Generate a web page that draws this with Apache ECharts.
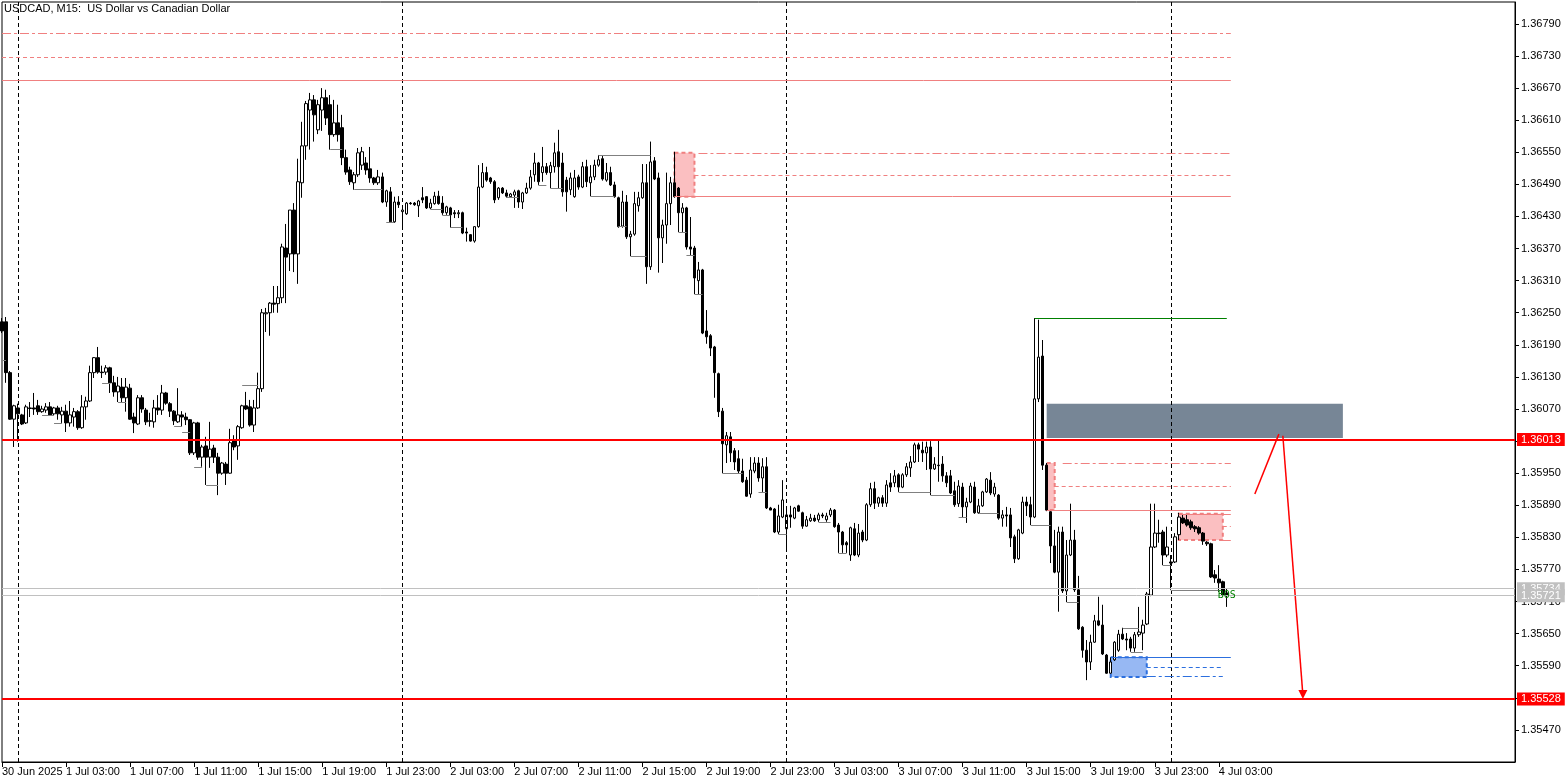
<!DOCTYPE html>
<html>
<head>
<meta charset="utf-8">
<title>USDCAD, M15</title>
<script src="https://cdn.jsdelivr.net/npm/echarts@6/dist/echarts.min.js"></script>
<style>
    html, body {margin: 0; padding: 0; background: #fff;}
    #chart {width: 1568px; height: 783px;}
</style>
</head>
<body>
<div id="chart"></div>
<script>
    var FONT = "'Liberation Sans Narrow', 'Liberation Sans', Arial, sans-serif";

    // M15 bars, bar 0 = 30 Jun 2025 23:00
    var barStart = Date.UTC(2025, 5, 30, 23, 0);
    var slotCount = 379; // bars + empty space on the right (chart shift)

    var xTickLabels = ['30 Jun 2025', '1 Jul 03:00', '1 Jul 07:00', '1 Jul 11:00', '1 Jul 15:00', '1 Jul 19:00',
        '1 Jul 23:00', '2 Jul 03:00', '2 Jul 07:00', '2 Jul 11:00', '2 Jul 15:00', '2 Jul 19:00', '2 Jul 23:00',
        '3 Jul 03:00', '3 Jul 07:00', '3 Jul 11:00', '3 Jul 15:00', '3 Jul 19:00', '3 Jul 23:00', '4 Jul 03:00'];
    var xTickStep = 16;

    var yMin = 1.35410, yMax = 1.36831, yStep = 0.0006;

    var open = [
        1.36233,1.36233,1.36138,1.36051,1.36072,1.36059,1.36044,1.36072,1.36072,1.36076,
        1.36065,1.36068,1.36074,1.36061,1.36072,1.36059,1.36066,1.36044,1.36055,1.36065,
        1.36035,1.36074,1.36085,1.36138,1.36166,1.36139,1.36139,1.36147,1.36119,1.36102,
        1.36111,1.36091,1.36109,1.36055,1.36042,1.36091,1.36068,1.36048,1.36046,1.36072,
        1.36068,1.36100,1.36080,1.36066,1.36046,1.36059,1.36055,1.36050,1.35988,1.36044,
        1.35980,1.36001,1.35980,1.35997,1.35980,1.35950,1.35967,1.35950,1.36012,1.36001,
        1.36035,1.36076,1.36074,1.36040,1.36072,1.36108,1.36248,1.36250,1.36268,1.36267,
        1.36278,1.36371,1.36360,1.36442,1.36360,1.36493,1.36562,1.36629,1.36648,1.36592,
        1.36629,1.36652,1.36639,1.36583,1.36605,1.36596,1.36540,1.36517,1.36493,1.36508,
        1.36526,1.36530,1.36519,1.36502,1.36493,1.36504,1.36457,1.36476,1.36420,1.36457,
        1.36439,1.36435,1.36455,1.36455,1.36450,1.36465,1.36467,1.36446,1.36454,1.36468,
        1.36455,1.36437,1.36446,1.36437,1.36435,1.36437,1.36401,1.36396,1.36384,1.36411,
        1.36485,1.36512,1.36502,1.36495,1.36465,1.36483,1.36474,1.36467,1.36470,1.36478,
        1.36457,1.36474,1.36483,1.36508,1.36530,1.36512,1.36523,1.36512,1.36523,1.36551,
        1.36530,1.36498,1.36480,1.36467,1.36504,1.36485,1.36523,1.36493,1.36504,1.36526,
        1.36538,1.36498,1.36512,1.36489,1.36465,1.36412,1.36457,1.36392,1.36397,1.36450,
        1.36465,1.36493,1.36336,1.36534,1.36502,1.36390,1.36414,1.36454,1.36493,1.36483,
        1.36437,1.36446,1.36373,1.36371,1.36310,1.36330,1.36216,1.36207,1.36186,1.36136,
        1.36066,1.36003,1.36018,1.35992,1.35977,1.35954,1.35937,1.35911,1.35954,1.35969,
        1.35941,1.35962,1.35885,1.35883,1.35840,1.35868,1.35846,1.35872,1.35866,1.35889,
        1.35876,1.35851,1.35861,1.35866,1.35863,1.35872,1.35863,1.35872,1.35881,1.35853,
        1.35840,1.35820,1.35797,1.35846,1.35797,1.35840,1.35825,1.35891,1.35921,1.35894,
        1.35904,1.35894,1.35932,1.35932,1.35947,1.35924,1.35947,1.35960,1.35971,1.36003,
        1.35993,1.35988,1.35999,1.35958,1.35965,1.35967,1.35945,1.35945,1.35917,1.35893,
        1.35924,1.35887,1.35896,1.35924,1.35876,1.35889,1.35915,1.35937,1.35911,1.35909,
        1.35866,1.35872,1.35872,1.35831,1.35790,1.35838,1.35896,1.35891,1.35868,1.36089,
        1.36169,1.35965,1.35878,1.35814,1.35765,1.35840,1.35730,1.35797,1.35825,1.35732,
        1.35662,1.35619,1.35597,1.35634,1.35674,1.35666,1.35610,1.35576,1.35601,1.35619,
        1.35649,1.35640,1.35640,1.35623,1.35648,1.35651,1.35668,1.35722,1.35812,1.35838,
        1.35840,1.35797,1.35784,1.35784,1.35835,1.35866,1.35863,1.35859,1.35850,1.35848,
        1.35838,1.35821,1.35818,1.35760,1.35752,1.35747,1.35726
    ];
    var high = [
        1.36240,1.36242,1.36141,1.36078,1.36080,1.36061,1.36078,1.36083,1.36100,1.36087,
        1.36076,1.36081,1.36083,1.36074,1.36076,1.36074,1.36078,1.36085,1.36072,1.36068,
        1.36096,1.36093,1.36151,1.36167,1.36186,1.36151,1.36152,1.36149,1.36132,1.36130,
        1.36128,1.36128,1.36117,1.36063,1.36096,1.36096,1.36072,1.36063,1.36087,1.36096,
        1.36115,1.36102,1.36083,1.36068,1.36109,1.36066,1.36063,1.36051,1.36046,1.36046,
        1.36003,1.36018,1.36046,1.36003,1.35988,1.35971,1.35971,1.36033,1.36021,1.36040,
        1.36078,1.36102,1.36087,1.36087,1.36138,1.36257,1.36259,1.36270,1.36300,1.36300,
        1.36379,1.36416,1.36442,1.36455,1.36538,1.36607,1.36646,1.36661,1.36657,1.36648,
        1.36670,1.36667,1.36657,1.36648,1.36639,1.36620,1.36555,1.36523,1.36513,1.36558,
        1.36560,1.36541,1.36560,1.36504,1.36517,1.36512,1.36480,1.36485,1.36467,1.36468,
        1.36446,1.36457,1.36457,1.36457,1.36461,1.36485,1.36468,1.36463,1.36476,1.36478,
        1.36468,1.36450,1.36448,1.36442,1.36442,1.36439,1.36409,1.36397,1.36411,1.36526,
        1.36530,1.36523,1.36504,1.36498,1.36485,1.36485,1.36480,1.36474,1.36480,1.36480,
        1.36476,1.36493,1.36517,1.36549,1.36532,1.36560,1.36530,1.36532,1.36568,1.36592,
        1.36549,1.36504,1.36512,1.36517,1.36508,1.36532,1.36536,1.36526,1.36536,1.36545,
        1.36543,1.36530,1.36523,1.36495,1.36467,1.36478,1.36470,1.36403,1.36476,1.36476,
        1.36528,1.36528,1.36570,1.36541,1.36512,1.36424,1.36512,1.36504,1.36551,1.36485,
        1.36455,1.36448,1.36429,1.36375,1.36345,1.36332,1.36255,1.36210,1.36188,1.36138,
        1.36072,1.36027,1.36027,1.35997,1.35993,1.35977,1.35943,1.35980,1.35980,1.35980,
        1.35978,1.35980,1.35887,1.35885,1.35891,1.35937,1.35887,1.35889,1.35887,1.35891,
        1.35878,1.35870,1.35874,1.35872,1.35876,1.35876,1.35876,1.35885,1.35883,1.35857,
        1.35842,1.35823,1.35850,1.35857,1.35855,1.35844,1.35894,1.35932,1.35934,1.35906,
        1.35909,1.35937,1.35950,1.35956,1.35950,1.35950,1.35969,1.35982,1.36007,1.36007,
        1.36009,1.36009,1.36010,1.35980,1.36012,1.35982,1.35952,1.35956,1.35934,1.35937,
        1.35932,1.35904,1.35932,1.35934,1.35902,1.35917,1.35941,1.35952,1.35932,1.35911,
        1.35881,1.35887,1.35885,1.35835,1.35846,1.35906,1.35906,1.35906,1.36240,1.36237,
        1.36199,1.35969,1.35879,1.35844,1.35850,1.35850,1.35825,1.35893,1.35844,1.35758,
        1.35664,1.35638,1.35648,1.35685,1.35719,1.35704,1.35612,1.35606,1.35636,1.35657,
        1.35661,1.35651,1.35644,1.35653,1.35700,1.35676,1.35728,1.35893,1.35893,1.35863,
        1.35844,1.35850,1.35797,1.35838,1.35876,1.35872,1.35872,1.35863,1.35853,1.35851,
        1.35840,1.35823,1.35820,1.35769,1.35778,1.35749,1.35735
    ];
    var low = [
        1.36212,1.36119,1.36050,1.35999,1.36009,1.36040,1.36042,1.36055,1.36059,1.36059,
        1.36063,1.36063,1.36059,1.36057,1.36050,1.36044,1.36027,1.36037,1.36037,1.36031,
        1.36033,1.36050,1.36083,1.36128,1.36136,1.36128,1.36134,1.36100,1.36093,1.36083,
        1.36083,1.36065,1.36050,1.36025,1.36040,1.36063,1.36040,1.36037,1.36035,1.36059,
        1.36059,1.36078,1.36055,1.36040,1.36044,1.36037,1.36040,1.35984,1.35984,1.35975,
        1.35962,1.35928,1.35960,1.35969,1.35909,1.35947,1.35928,1.35949,1.35993,1.35975,
        1.36033,1.36068,1.36037,1.36027,1.36070,1.36102,1.36214,1.36207,1.36250,1.36250,
        1.36268,1.36268,1.36328,1.36326,1.36304,1.36465,1.36536,1.36555,1.36570,1.36584,
        1.36590,1.36601,1.36555,1.36579,1.36570,1.36526,1.36508,1.36489,1.36480,1.36504,
        1.36517,1.36508,1.36493,1.36489,1.36489,1.36455,1.36448,1.36418,1.36418,1.36446,
        1.36411,1.36433,1.36452,1.36450,1.36429,1.36455,1.36444,1.36444,1.36452,1.36452,
        1.36433,1.36433,1.36409,1.36427,1.36427,1.36397,1.36383,1.36383,1.36381,1.36409,
        1.36483,1.36495,1.36491,1.36455,1.36461,1.36472,1.36465,1.36465,1.36446,1.36446,
        1.36444,1.36472,1.36480,1.36495,1.36489,1.36495,1.36508,1.36483,1.36512,1.36483,
        1.36467,1.36439,1.36470,1.36465,1.36480,1.36483,1.36485,1.36468,1.36498,1.36523,
        1.36497,1.36495,1.36487,1.36465,1.36409,1.36409,1.36388,1.36356,1.36394,1.36439,
        1.36463,1.36304,1.36330,1.36498,1.36325,1.36343,1.36379,1.36414,1.36465,1.36401,
        1.36401,1.36368,1.36358,1.36285,1.36285,1.36210,1.36192,1.36169,1.36091,1.36055,
        1.35950,1.35969,1.35971,1.35956,1.35950,1.35932,1.35906,1.35904,1.35950,1.35934,
        1.35915,1.35883,1.35881,1.35838,1.35836,1.35866,1.35807,1.35848,1.35864,1.35878,
        1.35846,1.35850,1.35859,1.35859,1.35859,1.35866,1.35859,1.35868,1.35848,1.35801,
        1.35801,1.35801,1.35786,1.35795,1.35793,1.35821,1.35823,1.35887,1.35883,1.35887,
        1.35887,1.35887,1.35915,1.35924,1.35915,1.35922,1.35943,1.35943,1.35969,1.35971,
        1.35971,1.35956,1.35909,1.35956,1.35934,1.35934,1.35924,1.35911,1.35887,1.35887,
        1.35868,1.35857,1.35894,1.35874,1.35874,1.35887,1.35913,1.35909,1.35906,1.35863,
        1.35850,1.35850,1.35812,1.35782,1.35788,1.35836,1.35870,1.35853,1.35866,1.36083,
        1.35956,1.35879,1.35782,1.35763,1.35691,1.35726,1.35709,1.35795,1.35728,1.35657,
        1.35605,1.35563,1.35582,1.35633,1.35664,1.35610,1.35575,1.35575,1.35599,1.35616,
        1.35638,1.35619,1.35616,1.35616,1.35644,1.35619,1.35666,1.35720,1.35810,1.35820,
        1.35778,1.35793,1.35732,1.35782,1.35825,1.35855,1.35850,1.35844,1.35840,1.35835,
        1.35816,1.35814,1.35754,1.35745,1.35728,1.35720,1.35700
    ];
    var close = [
        1.36216,1.36138,1.36051,1.36076,1.36061,1.36042,1.36074,1.36071,1.36070,1.36065,
        1.36070,1.36074,1.36059,1.36072,1.36061,1.36066,1.36044,1.36059,1.36065,1.36035,
        1.36074,1.36085,1.36138,1.36166,1.36139,1.36138,1.36147,1.36119,1.36102,1.36113,
        1.36091,1.36111,1.36051,1.36044,1.36091,1.36070,1.36046,1.36047,1.36072,1.36068,
        1.36100,1.36081,1.36066,1.36048,1.36059,1.36055,1.36050,1.35988,1.36044,1.35980,
        1.35999,1.35980,1.35995,1.35980,1.35950,1.35969,1.35950,1.36007,1.35999,1.36037,
        1.36076,1.36070,1.36040,1.36072,1.36108,1.36250,1.36250,1.36268,1.36266,1.36278,
        1.36373,1.36354,1.36442,1.36360,1.36495,1.36562,1.36641,1.36648,1.36620,1.36639,
        1.36652,1.36614,1.36583,1.36605,1.36583,1.36540,1.36513,1.36495,1.36508,1.36549,
        1.36551,1.36517,1.36502,1.36493,1.36504,1.36457,1.36478,1.36420,1.36457,1.36452,
        1.36442,1.36455,1.36454,1.36452,1.36459,1.36461,1.36446,1.36455,1.36468,1.36454,
        1.36437,1.36448,1.36433,1.36435,1.36437,1.36399,1.36399,1.36384,1.36411,1.36485,
        1.36512,1.36498,1.36495,1.36461,1.36483,1.36474,1.36468,1.36472,1.36476,1.36457,
        1.36474,1.36483,1.36504,1.36530,1.36495,1.36523,1.36512,1.36525,1.36549,1.36523,
        1.36476,1.36476,1.36502,1.36502,1.36485,1.36523,1.36495,1.36504,1.36526,1.36536,
        1.36500,1.36512,1.36489,1.36467,1.36411,1.36457,1.36392,1.36397,1.36454,1.36465,
        1.36493,1.36336,1.36532,1.36500,1.36390,1.36414,1.36454,1.36493,1.36467,1.36437,
        1.36446,1.36373,1.36369,1.36315,1.36330,1.36212,1.36205,1.36184,1.36138,1.36065,
        1.36005,1.36020,1.35988,1.35971,1.35954,1.35934,1.35907,1.35956,1.35969,1.35941,
        1.35962,1.35885,1.35881,1.35840,1.35870,1.35900,1.35872,1.35868,1.35885,1.35879,
        1.35851,1.35863,1.35866,1.35861,1.35872,1.35870,1.35870,1.35881,1.35850,1.35840,
        1.35816,1.35816,1.35848,1.35797,1.35838,1.35825,1.35891,1.35921,1.35894,1.35904,
        1.35894,1.35928,1.35924,1.35945,1.35924,1.35947,1.35962,1.35971,1.36003,1.35995,
        1.35988,1.35999,1.35958,1.35967,1.35964,1.35945,1.35932,1.35913,1.35891,1.35926,
        1.35887,1.35896,1.35926,1.35876,1.35889,1.35915,1.35939,1.35913,1.35924,1.35866,
        1.35872,1.35870,1.35829,1.35790,1.35844,1.35896,1.35889,1.35868,1.36089,1.36167,
        1.35965,1.35881,1.35814,1.35765,1.35840,1.35730,1.35797,1.35825,1.35732,1.35659,
        1.35619,1.35597,1.35634,1.35674,1.35666,1.35612,1.35576,1.35597,1.35634,1.35649,
        1.35640,1.35638,1.35623,1.35648,1.35653,1.35666,1.35724,1.35812,1.35838,1.35837,
        1.35797,1.35812,1.35782,1.35831,1.35868,1.35857,1.35853,1.35848,1.35846,1.35838,
        1.35823,1.35818,1.35756,1.35754,1.35745,1.35722,1.35721
    ];

    // horizontal levels over the whole chart
    var redLevels = [1.36013, 1.35528];
    var quoteLevels = [1.35734, 1.35721]; // ask, bid
    // day separators (bar index)
    var daySeparators = [4, 100, 196, 292];

    // zones: [fromBar, toBar, top, bottom]
    var pinkZones = [[168, 173, 1.36549, 1.36467], [261, 263, 1.35969, 1.35881], [294, 305, 1.35874, 1.35825]];
    var blueZones = [[277, 286, 1.35606, 1.35569]];
    var grayBlocks = [[261, 335, 1.36080, 1.36016]];
    // zone lines: [fromBar, toBar, price, style]
    var pinkLines = [
        [0, 307, 1.36773, 'dashdot'], [0, 307, 1.36728, 'dash'], [0, 307, 1.36684, 'solid'],
        [174, 307, 1.36549, 'dashdot'], [173, 307, 1.36508, 'dash'], [168, 307, 1.36467, 'solid'],
        [265, 307, 1.35969, 'dashdot'], [263, 307, 1.35926, 'dash'], [261, 307, 1.35881, 'solid'],
        [294, 307, 1.35874, 'solid'], [305, 307, 1.35850, 'dash'], [305, 307, 1.35825, 'solid']
    ];
    var blueLines = [[277, 307, 1.35606, 'solid'], [286, 305, 1.35588, 'dash'], [286, 305, 1.35571, 'dashdot']];
    var greenLines = [[258, 306, 1.36240]];
    // swing structure steps: [fromBar, toBar, price]
    var structLines = [
        [0, 1, 1.36162], [10, 13, 1.36059], [13, 15, 1.36044], [25, 27, 1.36119], [29, 31, 1.36083],
        [43, 45, 1.36037], [45, 47, 1.36027], [48, 50, 1.35962], [51, 54, 1.35928], [60, 64, 1.36115],
        [82, 85, 1.36555], [88, 95, 1.36480], [96, 98, 1.36420], [107, 110, 1.36444], [110, 112, 1.36433],
        [112, 115, 1.36409], [126, 129, 1.36465], [134, 136, 1.36489], [137, 140, 1.36483], [147, 153, 1.36468],
        [149, 162, 1.36545], [154, 156, 1.36411], [157, 161, 1.36356], [169, 171, 1.36401], [171, 173, 1.36358],
        [173, 175, 1.36285], [180, 185, 1.35950], [189, 191, 1.35915], [194, 196, 1.35835], [204, 207, 1.35859],
        [209, 211, 1.35801], [224, 232, 1.35915], [232, 238, 1.35909], [239, 241, 1.35868], [244, 249, 1.35876],
        [257, 262, 1.35853], [266, 269, 1.35709], [280, 284, 1.35661], [282, 285, 1.35616], [290, 292, 1.35778],
        [292, 304, 1.35732]
    ];
    // projected path: [[bar, price], [bar, price]]
    var projUp = [[313, 1.35911], [319, 1.36023]];
    var projDown = [[320, 1.36020], [325, 1.35536]];
    var bosMark = [306, 1.35722];

    var DASH = {solid: 'solid', dash: [4, 3], dashdot: [9, 3, 3, 3]};

    var categories = [];
    for (var i = 0; i < slotCount; i++) {
        categories.push(echarts.time.format(barStart + i * 900000, '{d} {MMM} {HH}:{mm}', true));
    }

    var candles = [];
    for (var k = 0; k < open.length; k++) {
        candles.push([open[k], close[k],
            Math.min(low[k], open[k], close[k]), Math.max(high[k], open[k], close[k])]);
    }

    function seg(a, b, price, color, type, width) {
        return [
            {coord: [categories[a], price], lineStyle: {color: color, type: DASH[type] || type, width: width || 1}},
            {coord: [categories[b], price]}
        ];
    }

    var lineData = [];
    structLines.forEach(function (s) { lineData.push(seg(s[0], s[1], s[2], '#808080', 'solid')); });
    pinkLines.forEach(function (s) { lineData.push(seg(s[0], s[1], s[2], '#f08080', s[3])); });
    blueLines.forEach(function (s) { lineData.push(seg(s[0], s[1], s[2], '#2c6fde', s[3])); });
    greenLines.forEach(function (s) { lineData.push(seg(s[0], s[1], s[2], '#008000', 'solid')); });
    [projUp, projDown].forEach(function (p, n) {
        lineData.push([
            {coord: [categories[p[0][0]], p[0][1]], lineStyle: {color: '#ff0000', width: 1.5, type: 'solid'}},
            {coord: [categories[p[1][0]], p[1][1]], symbol: n === 1 ? 'triangle' : 'none',
                symbolSize: [9, 9], symbolRotate: 180, itemStyle: {color: '#ff0000'}}
        ]);
    });

    function priceLabel(bg) {
        return {
            show: true, position: 'end', distance: 2, color: '#fff', backgroundColor: bg,
            padding: [1, 4, 0, 4], fontSize: 11, lineHeight: 12, fontFamily: FONT,
            formatter: function (p) { return Number(p.value).toFixed(5); }
        };
    }
    var levelData = [];
    quoteLevels.forEach(function (v) {
        levelData.push({yAxis: v, lineStyle: {color: '#c0c0c0', width: 1, type: 'solid'}, label: priceLabel('#c0c0c0')});
    });
    redLevels.forEach(function (v) {
        levelData.push({yAxis: v, lineStyle: {color: '#ff0000', width: 2, type: 'solid'}, label: priceLabel('#ff0000')});
    });

    var sepData = daySeparators.map(function (b) {
        return {xAxis: categories[b]};
    });

    function area(list, style) {
        return list.map(function (z) {
            return [{coord: [categories[z[0]], z[2]], itemStyle: style}, {coord: [categories[z[1]], z[3]]}];
        });
    }
    var zoneData = []
        .concat(area(grayBlocks, {color: 'rgba(112,128,144,0.95)', borderWidth: 0}))
        .concat(area(pinkZones, {color: 'rgba(248,128,132,0.5)', borderColor: '#f08080', borderWidth: 2, borderType: [4, 3]}))
        .concat(area(blueZones, {color: 'rgba(100,149,237,0.67)', borderColor: '#2c6fde', borderWidth: 2, borderType: [4, 3]}));

    var option = {
        animation: false,
        backgroundColor: '#fff',
        title: {
            text: 'USDCAD, M15:  US Dollar vs Canadian Dollar',
            left: 4, top: 3, padding: 0,
            textStyle: {fontFamily: FONT, fontSize: 11, fontWeight: 'normal', color: '#000'}
        },
        grid: {left: 2, right: 53, top: 2, bottom: 21, show: true, borderColor: '#000', borderWidth: 1,
            outerBoundsMode: 'none', containLabel: false},
        xAxis: {
            type: 'category',
            data: categories,
            boundaryGap: false,
            axisLine: {show: true, lineStyle: {color: '#000', width: 1}},
            axisTick: {
                show: true, length: 5, lineStyle: {color: '#000'},
                interval: function (idx) { return idx % xTickStep === 0 && idx / xTickStep < xTickLabels.length; }
            },
            axisLabel: {
                color: '#000', fontSize: 11, fontFamily: FONT, align: 'left', margin: 4,
                interval: function (idx) { return idx % xTickStep === 0 && idx / xTickStep < xTickLabels.length; },
                formatter: function (v, idx) { return xTickLabels[idx / xTickStep] || ''; }
            },
            splitLine: {show: false}
        },
        yAxis: {
            type: 'value',
            position: 'right',
            min: yMin, max: yMax, interval: yStep,
            axisLine: {show: true, lineStyle: {color: '#000', width: 1}},
            axisTick: {show: true, length: 4, lineStyle: {color: '#000'}},
            axisLabel: {
                color: '#000', fontSize: 11, fontFamily: FONT, margin: 6,
                showMinLabel: false, showMaxLabel: false,
                formatter: function (v) { return v.toFixed(5); }
            },
            splitLine: {show: false}
        },
        series: [
            {
                name: 'separators', type: 'line', data: [], z: 1,
                markLine: {
                    silent: true, symbol: ['none', 'none'], animation: false,
                    label: {show: false},
                    lineStyle: {color: '#000', type: [4, 3], width: 1},
                    emphasis: {disabled: true},
                    data: sepData
                }
            },
            {
                name: 'USDCAD', type: 'candlestick', data: candles, z: 2,
                barWidth: 3,
                itemStyle: {color: '#fff', color0: '#000', borderColor: '#000', borderColor0: '#000', borderWidth: 1}
            },
            {
                name: 'zones', type: 'line', data: [], z: 4,
                markArea: {silent: true, animation: false, emphasis: {disabled: true}, data: zoneData}
            },
            {
                name: 'lines', type: 'line', data: [], z: 5,
                markLine: {
                    silent: true, symbol: ['none', 'none'], animation: false, precision: 5,
                    label: {show: false},
                    emphasis: {disabled: true},
                    data: lineData
                },
                markPoint: {
                    silent: true, animation: false,
                    data: [{
                        coord: [categories[bosMark[0]], bosMark[1]], symbol: 'rect', symbolSize: 1,
                        itemStyle: {color: 'rgba(0,0,0,0)'},
                        label: {show: true, position: 'inside', formatter: 'BOS', color: '#008000',
                            fontSize: 10, fontFamily: "'DejaVu Sans Mono', monospace"}
                    }]
                }
            },
            {
                name: 'levels', type: 'line', data: [], z: 6,
                markLine: {
                    silent: true, symbol: ['none', 'none'], animation: false, precision: 5,
                    emphasis: {disabled: true},
                    data: levelData
                }
            }
        ]
    };

    var chart = echarts.init(document.getElementById('chart'), null, {renderer: 'canvas'});
    chart.setOption(option);
</script>
</body>
</html>
